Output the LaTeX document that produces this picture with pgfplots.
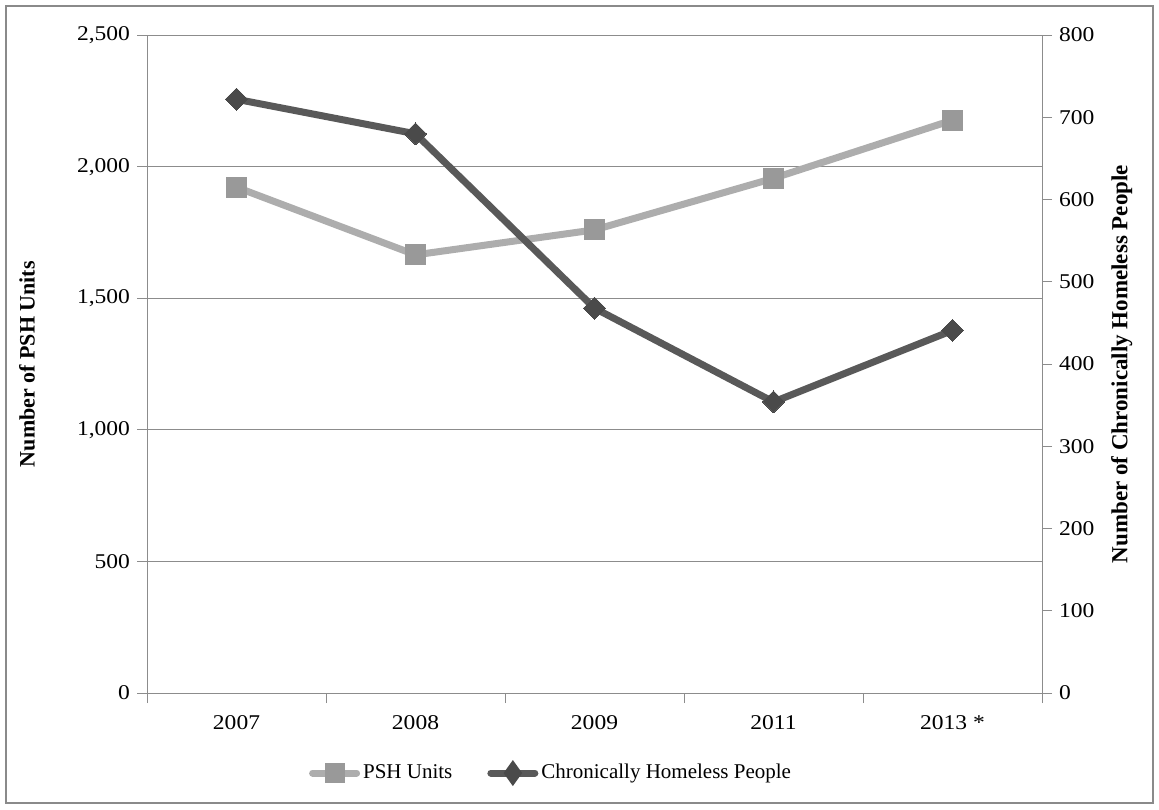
\documentclass[border=0pt]{standalone}
\usepackage{fontspec}
\setmainfont{Liberation Serif}
\newfontfamily\tickfont[FakeStretch=1.12]{Liberation Serif}
\usepackage{pgfplots}
\pgfplotsset{compat=1.18}
\definecolor{pshline}{HTML}{ADADAD}
\definecolor{pshmark}{HTML}{999999}
\definecolor{chline}{HTML}{595959}
\definecolor{chmark}{HTML}{4A4A4A}
\definecolor{gridc}{HTML}{8C8C8C}
\definecolor{framec}{HTML}{8A8A8A}
\begin{document}
\begin{tikzpicture}
\useasboundingbox (0,0) rectangle (579.5pt,404.5pt);
\draw[framec, line width=1pt] (3pt,3pt) rectangle (576.5pt,401.5pt);
\begin{axis}[
  at={(73.5pt,57.95pt)}, anchor=south west,
  scale only axis, width=447.5pt, height=329pt,
  xmin=-0.5, xmax=4.5, ymin=0, ymax=2500,
  xtick={0,1,2,3,4},
  xticklabels={2007,2008,2009,2011,2013 *},
  minor xtick={-0.5,0.5,1.5,2.5,3.5,4.5},
  ytick={0,500,1000,1500,2000,2500},
  tick align=outside,
  major tick length=5pt, minor tick length=5pt,
  major x tick style={draw=none},
  minor x tick style={draw=gridc, line width=0.5pt},
  ytick style={draw=gridc, line width=0.5pt},
  axis y line*=left,
  axis x line*=bottom,
  axis line style={gridc, line width=0.5pt},
  ymajorgrids, grid style={gridc, line width=0.5pt},
  /pgf/number format/assume math mode=true,
  /pgf/number format/1000 sep={,},
  scaled y ticks=false,
  tick label style={font=\tickfont\fontsize{10.5}{12}\selectfont},
  xticklabel style={yshift=-2.5pt},
  every axis y label/.style={at={(axis description cs:-0.134,0.5)}, rotate=90, anchor=center,
    font=\bfseries\fontsize{11}{13}\selectfont},
  ylabel={Number of PSH Units},
  clip=false,
]
\addplot[pshline, line width=3.5pt, mark=square*, mark size=5pt,
  mark options={fill=pshmark, draw=pshmark, line width=0pt}]
  coordinates {(0,1922) (1,1665) (2,1760) (3,1956) (4,2177)};
\end{axis}
\begin{axis}[
  at={(73.5pt,57.95pt)}, anchor=south west,
  scale only axis, width=447.5pt, height=329pt,
  xmin=-0.5, xmax=4.5, ymin=0, ymax=800,
  axis x line=none,
  axis y line*=right,
  ytick={0,100,200,300,400,500,600,700,800},
  tick align=outside,
  major tick length=5pt,
  ytick style={draw=gridc, line width=0.5pt},
  axis line style={gridc, line width=0.5pt},
  /pgf/number format/assume math mode=true,
  tick label style={font=\tickfont\fontsize{10.5}{12}\selectfont},
  every axis y label/.style={at={(axis description cs:1.089,0.5)}, rotate=90, anchor=center,
    font=\bfseries\fontsize{11.5}{13}\selectfont},
  ylabel={Number of Chronically Homeless People},
  legend style={at={(axis description cs:0.452,-0.1215)}, anchor=center, draw=none, fill=none,
    legend columns=2, /tikz/every even column/.append style={column sep=16pt},
    nodes={inner sep=1.5pt},
    font=\fontsize{10.5}{12}\selectfont, inner sep=0pt},
  legend cell align=left,
  clip=false,
]
\addlegendimage{pshline, line width=3.5pt,
  legend image code/.code={\draw[pshline, line width=3.5pt, line cap=round] (0pt,0pt) -- (22pt,0pt);
  \fill[pshmark] (8pt,-3.2pt) rectangle (14.4pt,3.2pt);}}
\addlegendentry{PSH Units}
\addplot[chline, line width=3.5pt, mark=square*, mark size=3.9pt,
  mark options={fill=chmark, draw=chmark, rotate=45, line width=0pt},
  legend image code/.code={\draw[chline, line width=3.5pt, line cap=round] (0pt,0pt) -- (22pt,0pt);
  \fill[chmark] (11pt,-3.5pt) -- (13.5pt,0pt) -- (11pt,3.5pt) -- (8.5pt,0pt) -- cycle;}]
  coordinates {(0,722) (1,680) (2,468) (3,354) (4,441)};
\addlegendentry{Chronically Homeless People}
\end{axis}
\end{tikzpicture}
\end{document}
